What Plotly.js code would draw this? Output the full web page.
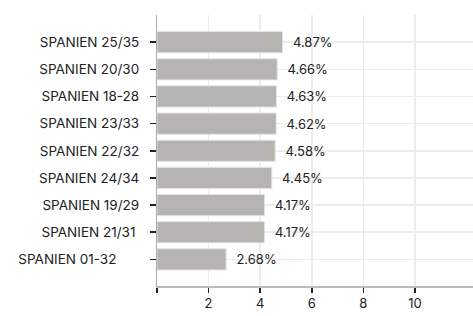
<!DOCTYPE html>
<html><head><meta charset="utf-8">
<script src="https://cdn.plot.ly/plotly-3.0.1.min.js"></script>
<style>html,body{margin:0;padding:0;background:#fff}#chart{width:473px;height:316px}</style>
</head><body><div id="chart"></div>
<script>
const categories = ["SPANIEN 25/35","SPANIEN 20/30","SPANIEN 18-28","SPANIEN 23/33","SPANIEN 22/32","SPANIEN 24/34","SPANIEN 19/29","SPANIEN 21/31\u00a0","SPANIEN 01-32\u00a0\u00a0\u00a0\u00a0\u00a0\u00a0"];
const values = [4.87, 4.66, 4.63, 4.62, 4.58, 4.45, 4.17, 4.17, 2.68];
const xTickVals = [0, 2, 4, 6, 8, 10];
const xTickText = ["", "2", "4", "6", "8", "10"];

const trace = {
  type: 'bar', orientation: 'h',
  x: values, y: categories,
  marker: {color: '#b5b4b0', line: {color: '#e4e4e2', width: 1}},
  width: 0.78,
  text: values.map(v => '\u00a0\u00a0' + v.toFixed(2) + '%'),
  textposition: 'outside',
  textfont: {family: 'Inter, sans-serif', size: 13, color: '#222'},
  cliponaxis: false,
  hoverinfo: 'none'
};
const layout = {
  width: 473, height: 316,
  margin: {l: 157, r: 0, t: 15, b: 30},
  paper_bgcolor: '#fff', plot_bgcolor: '#fff',
  font: {family: 'Inter, sans-serif', size: 13, color: '#222'},
  showlegend: false,
  xaxis: {
    range: [0, 12.25], tickvals: xTickVals, ticktext: xTickText,
    ticks: 'outside', ticklen: 5, tickwidth: 1.5, tickcolor: '#222',
    showgrid: true, gridcolor: '#ececec', gridwidth: 1.5,
    zeroline: false,
    showline: true, linecolor: '#bbbbbb', linewidth: 1.5,
    tickfont: {size: 13}
  },
  yaxis: {
    autorange: false, range: [8.98, -1.0], type: 'category',
    ticks: 'outside', ticklen: 6, tickwidth: 1.5, tickcolor: '#222',
    showgrid: true, gridcolor: '#ececec', gridwidth: 1.5,
    showline: true, linecolor: '#aaaaaa', linewidth: 1.5,
    tickfont: {size: 13.5}, ticksuffix: '\u00a0\u00a0'
  }
};
Plotly.newPlot('chart', [trace], layout, {displayModeBar: false, staticPlot: true});
</script></body></html>
